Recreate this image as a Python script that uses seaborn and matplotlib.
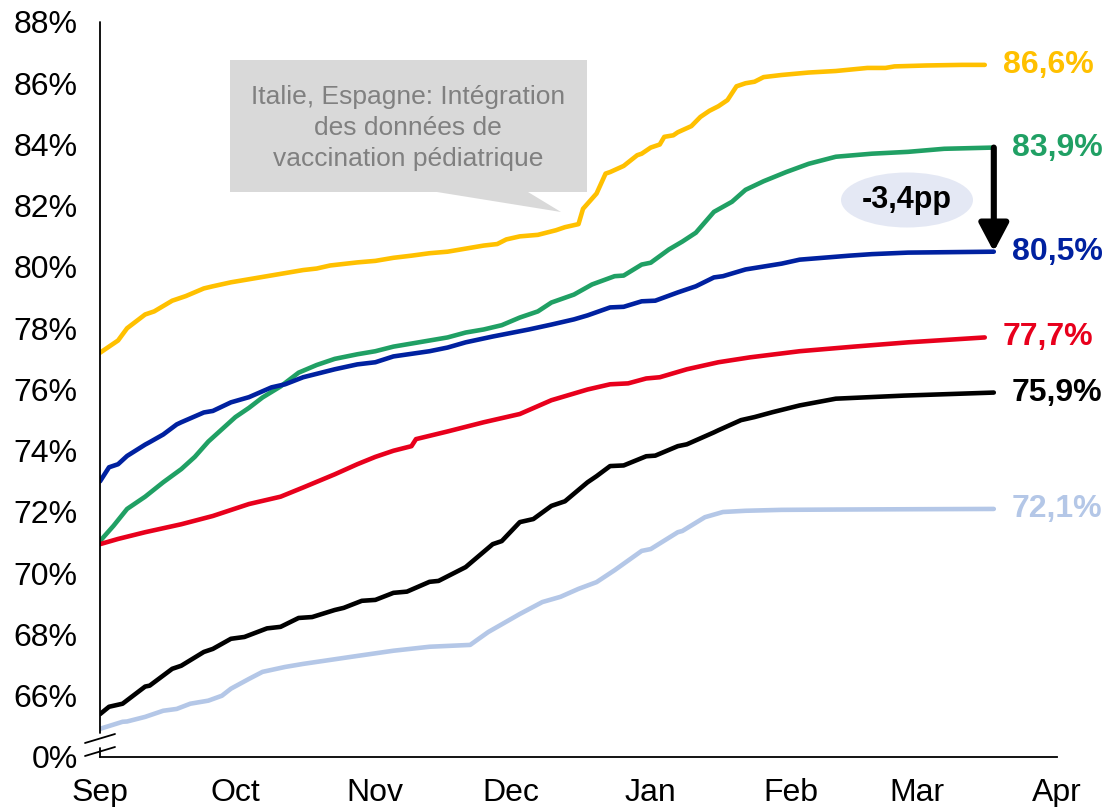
import numpy as np
import pandas as pd
import matplotlib
matplotlib.use("Agg")
import matplotlib.pyplot as plt
import matplotlib.dates as mdates
from matplotlib.patches import Polygon, Ellipse
import seaborn as sns

# ---------------------------------------------------------------------------
# Data: cumulative vaccination coverage (%), days counted from 1 Sep 2021
# ---------------------------------------------------------------------------
START = pd.Timestamp("2021-09-01")

yellow_days = [0, 4, 6, 10, 12, 16, 19, 23, 25, 29, 33, 37, 41, 45, 48, 51, 57, 61, 65, 69,
               73, 77, 81, 85, 88, 90, 93, 97, 101, 103, 106, 107, 110, 112, 113, 116, 119,
               120, 122, 124, 125, 127, 128, 131, 133, 135, 137, 139, 141, 143, 145, 147,
               151, 157, 163, 170, 174, 176, 183, 191, 196]
yellow_vals = [77.2, 77.6, 78.0, 78.45, 78.55, 78.9, 79.05, 79.3, 79.37, 79.5, 79.6, 79.7,
               79.8, 79.9, 79.95, 80.05, 80.15, 80.2, 80.3, 80.37, 80.45, 80.5, 80.6, 80.7,
               80.75, 80.9, 81.0, 81.05, 81.2, 81.3, 81.4, 81.9, 82.4, 83.05, 83.1, 83.3,
               83.65, 83.7, 83.9, 84.0, 84.25, 84.3, 84.4, 84.6, 84.9, 85.1, 85.25, 85.45,
               85.9, 86.0, 86.05, 86.2, 86.27, 86.35, 86.4, 86.5, 86.5, 86.55, 86.58, 86.6, 86.6]

green_days = [0, 3, 6, 10, 14, 18, 21, 24, 27, 30, 33, 36, 40, 44, 48, 52, 57, 61, 65, 69,
              73, 77, 81, 85, 89, 93, 97, 100, 105, 109, 114, 116, 120, 122, 126, 129, 132,
              136, 140, 143, 147, 152, 157, 163, 171, 179, 187, 198]
green_vals = [71.05, 71.55, 72.1, 72.5, 72.97, 73.4, 73.8, 74.3, 74.7, 75.1, 75.4, 75.74,
              76.1, 76.55, 76.8, 77.0, 77.15, 77.25, 77.4, 77.5, 77.6, 77.7, 77.86, 77.96,
              78.1, 78.35, 78.55, 78.84, 79.1, 79.43, 79.7, 79.72, 80.08, 80.14, 80.57,
              80.83, 81.12, 81.8, 82.13, 82.52, 82.8, 83.1, 83.37, 83.6, 83.7, 83.76, 83.86, 83.9]

blue_days = [0, 2, 4, 6, 10, 11, 14, 17, 18, 23, 25, 29, 33, 38, 41, 45, 52, 57, 61, 65,
             73, 77, 81, 87, 95, 100, 105, 108, 113, 116, 120, 123, 128, 132, 136, 138, 143,
             151, 155, 166, 171, 179, 198]
blue_vals = [73.0, 73.46, 73.56, 73.83, 74.2, 74.28, 74.53, 74.86, 74.93, 75.25, 75.3, 75.58,
             75.75, 76.07, 76.17, 76.4, 76.66, 76.82, 76.89, 77.08, 77.25, 77.37, 77.54, 77.73,
             77.96, 78.12, 78.29, 78.42, 78.68, 78.7, 78.88, 78.9, 79.17, 79.37, 79.66, 79.7,
             79.92, 80.11, 80.24, 80.37, 80.42, 80.47, 80.5]

red_days = [0, 4, 10, 18, 25, 33, 40, 45, 52, 57, 61, 65, 69, 70, 77, 85, 93, 100, 108,
            113, 117, 121, 124, 130, 137, 144, 155, 167, 179, 196]
red_vals = [70.95, 71.12, 71.34, 71.6, 71.87, 72.26, 72.5, 72.8, 73.23, 73.56, 73.8, 74.0,
            74.15, 74.38, 74.63, 74.93, 75.2, 75.65, 76.0, 76.17, 76.2, 76.36, 76.4, 76.66,
            76.89, 77.05, 77.25, 77.4, 77.54, 77.7]

black_days = [0, 2, 5, 10, 11, 16, 18, 23, 25, 29, 32, 37, 40, 44, 47, 52, 54, 58, 61, 65,
              68, 73, 75, 81, 87, 89, 93, 96, 100, 103, 108, 110, 113, 116, 121, 123, 128,
              130, 136, 137, 142, 145, 149, 155, 163, 178, 190, 198]
black_vals = [65.4, 65.64, 65.74, 66.3, 66.33, 66.88, 66.98, 67.43, 67.53, 67.86, 67.92,
              68.2, 68.25, 68.54, 68.57, 68.8, 68.87, 69.1, 69.13, 69.36, 69.4, 69.72, 69.75,
              70.2, 70.95, 71.05, 71.67, 71.77, 72.2, 72.35, 72.97, 73.17, 73.5, 73.52, 73.82,
              73.84, 74.15, 74.21, 74.6, 74.67, 75.0, 75.1, 75.26, 75.48, 75.7, 75.8, 75.86, 75.9]

light_days = [0, 5, 6, 10, 14, 17, 20, 24, 27, 29, 33, 36, 41, 45, 51, 57, 65, 73, 82, 86,
              93, 98, 102, 106, 110, 114, 120, 122, 128, 129, 134, 138, 143, 151, 163, 179, 198]
light_vals = [64.92, 65.15, 65.16, 65.31, 65.51, 65.57, 65.74, 65.84, 66.0, 66.23, 66.55,
              66.78, 66.94, 67.04, 67.17, 67.3, 67.47, 67.6, 67.66, 68.08, 68.67, 69.06, 69.23,
              69.49, 69.71, 70.1, 70.73, 70.79, 71.34, 71.38, 71.83, 72.0, 72.04, 72.07, 72.08,
              72.09, 72.1]

series = {
    "yellow": (yellow_days, yellow_vals),
    "green": (green_days, green_vals),
    "blue": (blue_days, blue_vals),
    "red": (red_days, red_vals),
    "black": (black_days, black_vals),
    "lightblue": (light_days, light_vals),
}
palette = {
    "yellow": "#FFC000",
    "green": "#20A064",
    "blue": "#0021A0",
    "red": "#E8001C",
    "black": "#000000",
    "lightblue": "#B4C7E7",
}

y_ticks = list(range(64, 89, 2))
y_tick_labels = ["0%"] + [f"{v}%" for v in y_ticks[1:]]

callout_text = "Italie, Espagne: Intégration\ndes données de\nvaccination pédiatrique"

# ---------------------------------------------------------------------------
frames = []
for name, (days, vals) in series.items():
    frames.append(pd.DataFrame({
        "date": START + pd.to_timedelta(days, unit="D"),
        "value": vals,
        "series": name,
    }))
df = pd.concat(frames, ignore_index=True)

sns.set_theme(style="white")
plt.rcParams["font.family"] = ["Liberation Sans", "DejaVu Sans"]

W, H = 1112, 807
fig = plt.figure(figsize=(W / 100, H / 100), dpi=100)
AX_L, AX_R, AX_B, AX_T = 100, 1057, 757, 22
ax = fig.add_axes([AX_L / W, 1 - AX_B / H, (AX_R - AX_L) / W, (AX_B - AX_T) / H])


def axfrac(x, y):
    """Pixel position on the canvas -> axes fraction."""
    return ((x - AX_L) / (AX_R - AX_L), (AX_B - y) / (AX_B - AX_T))


sns.lineplot(data=df, x="date", y="value", hue="series", palette=palette,
             hue_order=list(series.keys()), estimator=None, legend=False,
             linewidth=3.3, ax=ax)

ax.set_xlim(pd.Timestamp("2021-09-01"), pd.Timestamp("2022-04-01"))
ax.set_ylim(64, 88)
ax.set_yticks(y_ticks)
ax.set_yticklabels(y_tick_labels)
ax.xaxis.set_major_locator(mdates.MonthLocator())
ax.xaxis.set_major_formatter(mdates.DateFormatter("%b"))
ax.set_xlabel("")
ax.set_ylabel("")
ax.tick_params(axis="both", length=0, labelsize=23, colors="black")
ax.tick_params(axis="y", pad=16)
ax.tick_params(axis="x", pad=15)

for s in ["top", "right", "left"]:
    ax.spines[s].set_visible(False)
ax.spines["bottom"].set_color("black")
ax.spines["bottom"].set_linewidth(1.3)

# left axis line with a break near the bottom
ax.plot([0, 0], [0, 0.0122], transform=ax.transAxes, color="black", lw=1.3, clip_on=False)
ax.plot([0, 0], [0.0326, 1], transform=ax.transAxes, color="black", lw=1.3, clip_on=False)
for y0, y1 in [(743, 734), (756, 747)]:
    (xa, ya), (xb, yb) = axfrac(85, y0), axfrac(115, y1)
    ax.plot([xa, xb], [ya, yb], transform=ax.transAxes, color="black", lw=1.3, clip_on=False)

# end-of-line value labels
for name, (days, vals) in series.items():
    end_date = START + pd.Timedelta(days=days[-1])
    ax.annotate(f"{vals[-1]:.1f}%".replace(".", ","), xy=(end_date, vals[-1]),
                xytext=(13, 0), textcoords="offset points", ha="left", va="center",
                fontsize=23, fontweight="bold", color=palette[name])

# gap arrow between the green and blue series
g_end = START + pd.Timedelta(days=green_days[-1])
ax.annotate("", xy=(g_end, blue_vals[-1]), xytext=(g_end, green_vals[-1]),
            arrowprops=dict(arrowstyle="-|>,head_length=0.85,head_width=0.45",
                            color="black", lw=4.4, shrinkA=0, shrinkB=0,
                            mutation_scale=20))
gap = blue_vals[-1] - green_vals[-1]
ex, ey = axfrac(907, 200)
ax.add_patch(Ellipse((ex, ey), 132 / (AX_R - AX_L), 55 / (AX_B - AX_T),
                     transform=ax.transAxes, facecolor="#E4E8F4", edgecolor="none"))
ax.text(ex, ey, f"{gap:.1f}pp".replace(".", ","), transform=ax.transAxes,
        ha="center", va="center", fontsize=22, fontweight="bold", color="black")

# callout box
pts = [(230, 60), (587, 60), (587, 192), (528, 192), (561, 212), (437, 192), (230, 192)]
ax.add_patch(Polygon([axfrac(x, y) for x, y in pts], closed=True, transform=ax.transAxes,
                     facecolor="#D9D9D9", edgecolor="none", clip_on=False, zorder=0.5))
tx, ty = axfrac(408, 128)
ax.text(tx, ty, callout_text, transform=ax.transAxes, ha="center", va="center",
        fontsize=19, color="#808080", linespacing=1.35)

fig.savefig("out.png", dpi=100)
